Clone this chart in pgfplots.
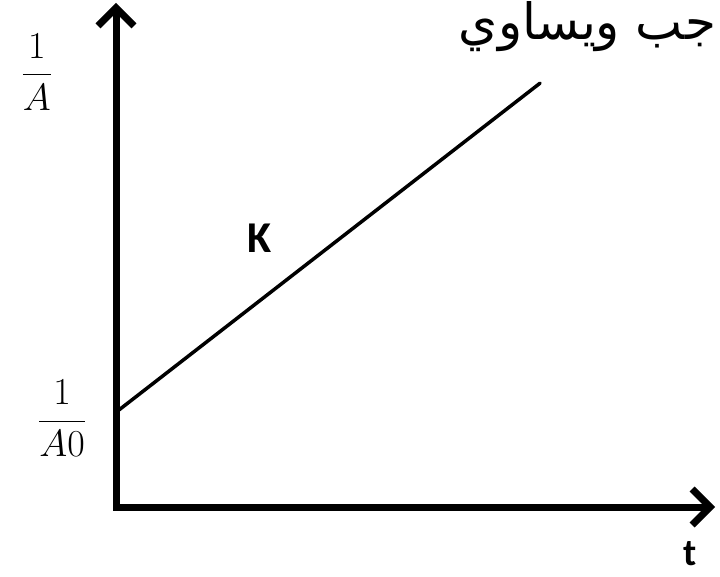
\documentclass[border=0pt]{standalone}
\usepackage{graphicx}
\usepackage{fontspec}
\usepackage{pgfplots}
\pgfplotsset{compat=1.18}
\usetikzlibrary{arrows.meta}
\setsansfont{Carlito}
\newfontfamily\arabicfont[Script=Arabic]{DejaVu Sans}
\TeXXeTstate=1
% large fraction labels for the axis ends
\newcommand\bigfrac[2]{\scalebox{1.53}{\Huge$\displaystyle\frac{#1}{#2}$}}

\begin{document}
\begin{tikzpicture}
\begin{axis}[
  at={(116pt,69pt)}, anchor=south west,
  scale only axis,
  width=599pt, height=504pt,
  xmin=0, xmax=10, ymin=0, ymax=10,
  axis lines=left,
  axis line style={line width=7pt, line cap=rect,
    -{Straight Barb[length=18pt,width=36pt]}},
  xtick=\empty, ytick=\empty,
  clip=false,
]
  % second-order kinetics: 1/[A] grows linearly with time, slope K
  \addplot[black, line width=3.5pt, line cap=round] coordinates {(0,1.88) (7.08,8.41)};

  \node at (axis cs:-1.32,8.63) {\bigfrac{1}{A}};
  \node at (axis cs:-0.90,1.76) {\bigfrac{1}{A0}};
  \node at (axis cs:2.39,5.34) {\fontsize{44}{50}\selectfont\sffamily\bfseries K};
  \node at (axis cs:9.58,-0.92) {\fontsize{38}{44}\selectfont\sffamily\bfseries t};
  \node[anchor=base east, inner sep=0pt] at (axis cs:10.02,9.28)
    {\fontsize{50}{58}\selectfont\arabicfont\beginR جب ويساوي\endR};
\end{axis}
\pgfresetboundingbox
\useasboundingbox (0,0) rectangle (720pt,576pt);
\end{tikzpicture}
\end{document}
